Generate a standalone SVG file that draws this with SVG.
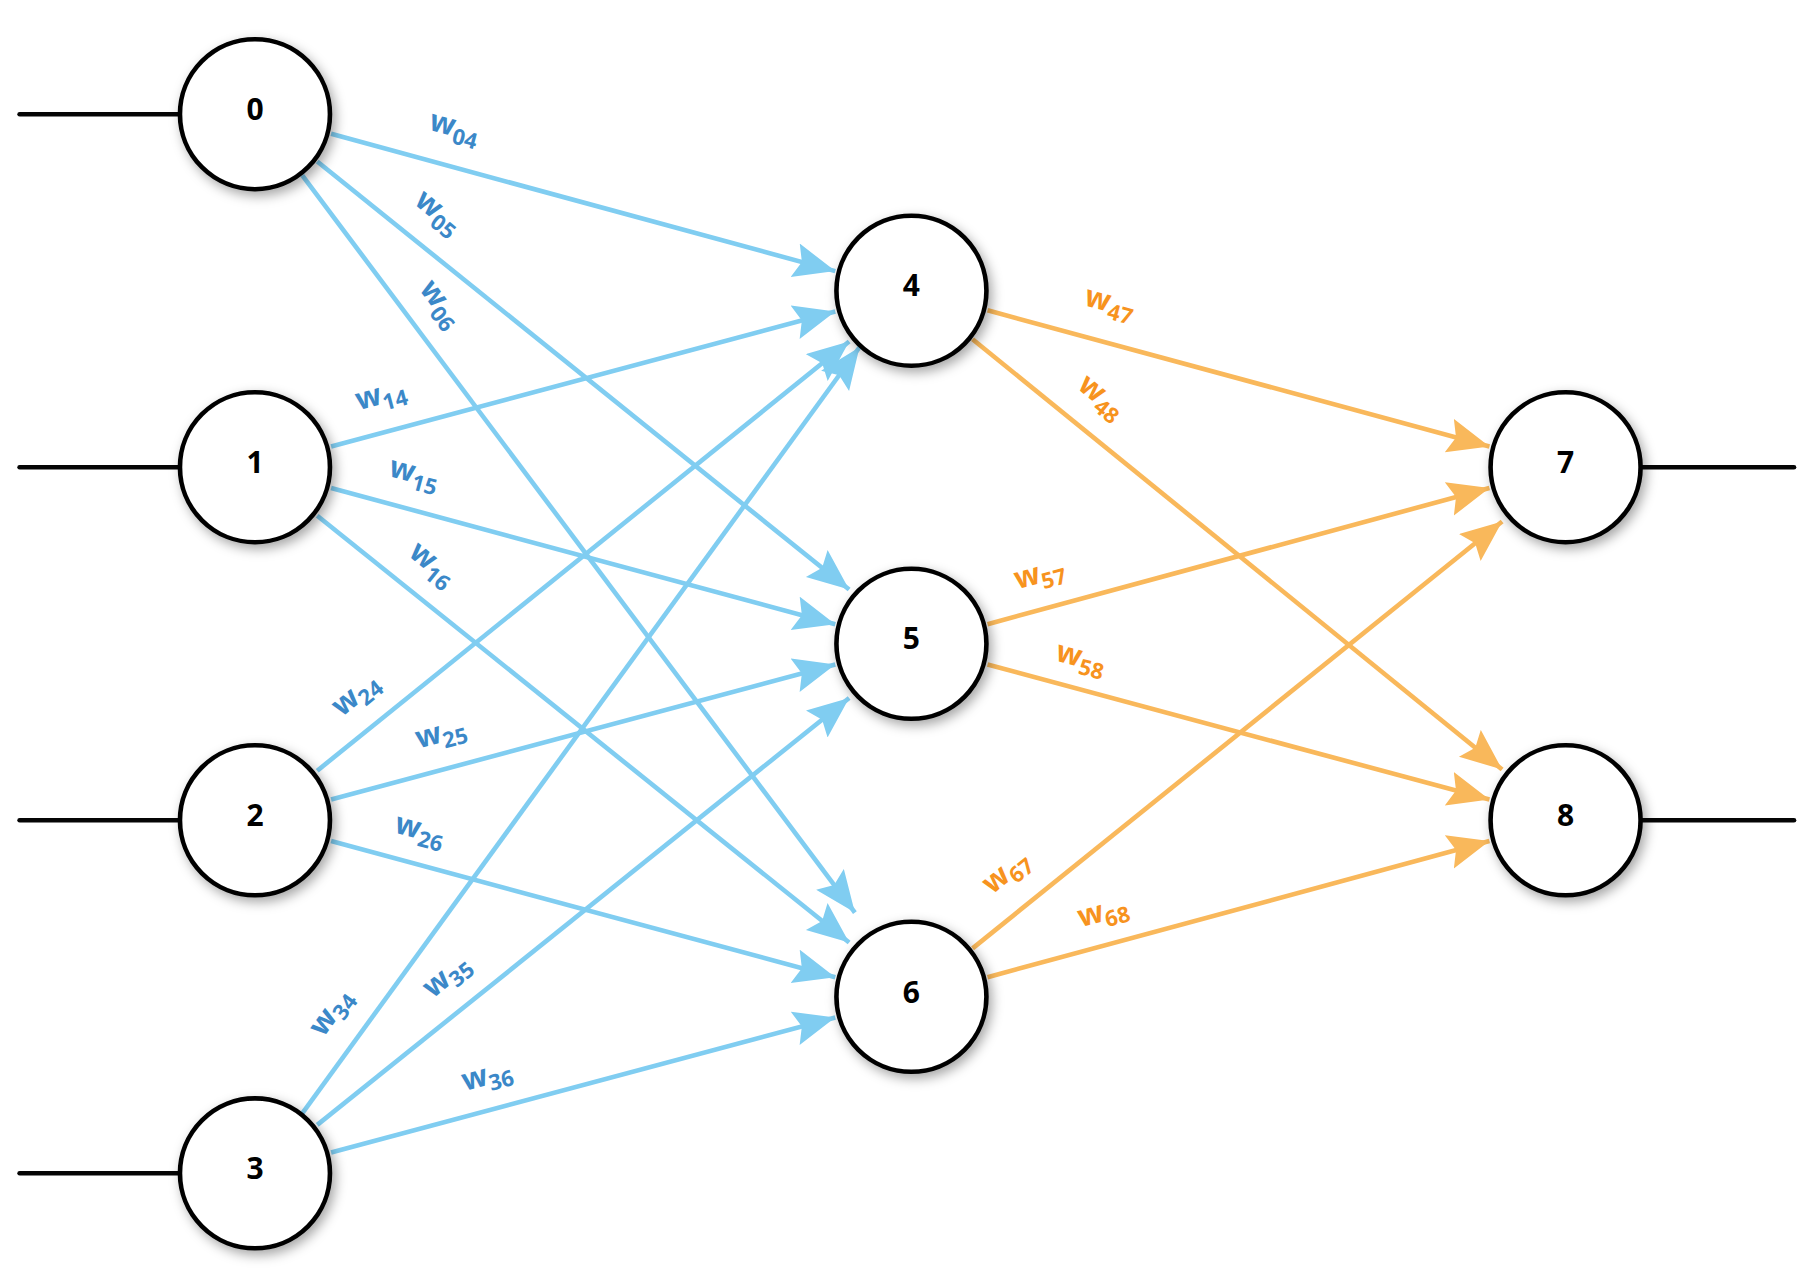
<svg xmlns="http://www.w3.org/2000/svg" width="1809" height="1277" viewBox="0 0 1809 1277">
<style>
.n{fill:#fff;stroke:#050505;stroke-width:4}
.nt{font-family:"Open Sans","DejaVu Sans",sans-serif;font-weight:bold;font-size:26px;fill:#000;text-anchor:middle;dominant-baseline:central}
.io{stroke:#050505;stroke-width:4;stroke-linecap:round}
.b{stroke:#80cdf1;stroke-width:4;fill:none}
.o{stroke:#f9b85b;stroke-width:4;fill:none}
.lb{font-family:"Open Sans","DejaVu Sans",sans-serif;font-weight:bold;font-size:26px;fill:#3b88c8;text-anchor:middle}
.lo{font-family:"Open Sans","DejaVu Sans",sans-serif;font-weight:bold;font-size:26px;fill:#f7931e;text-anchor:middle}
.s{font-size:19px}
</style>
<defs>
<filter id="sh" x="-30%" y="-30%" width="160%" height="160%"><feDropShadow dx="3" dy="4" stdDeviation="5" flood-color="#000" flood-opacity="0.35"/></filter>
<marker id="ab" markerUnits="userSpaceOnUse" markerWidth="40" markerHeight="32" refX="36" refY="15" orient="auto"><path d="M0,0 L36,15 L0,30 L6,15 z" fill="#80cdf1"/></marker>
<marker id="ao" markerUnits="userSpaceOnUse" markerWidth="40" markerHeight="32" refX="36" refY="15" orient="auto"><path d="M0,0 L36,15 L0,30 L6,15 z" fill="#f9b85b"/></marker>
</defs>
<rect width="1809" height="1277" fill="#fff"/>
<g transform="scale(1.1537)">
<g id="connectors">
<line class="io" x1="17" y1="99" x2="155" y2="99"/>
<line class="io" x1="17" y1="405" x2="155" y2="405"/>
<line class="io" x1="17" y1="711" x2="155" y2="711"/>
<line class="io" x1="17" y1="1017" x2="155" y2="1017"/>
<line class="io" x1="1423" y1="405" x2="1555" y2="405"/>
<line class="io" x1="1423" y1="711" x2="1555" y2="711"/>
<g marker-end="url(#ab)">
<line class="b" x1="287" y1="116" x2="724" y2="235"/>
<line class="b" x1="275" y1="140" x2="736" y2="511"/>
<line class="b" x1="262" y1="152" x2="741" y2="791"/>
<line class="b" x1="287" y1="387" x2="724" y2="270"/>
<line class="b" x1="287" y1="423" x2="724" y2="541"/>
<line class="b" x1="275" y1="447" x2="736" y2="817"/>
<line class="b" x1="275" y1="668" x2="736" y2="296"/>
<line class="b" x1="287" y1="693" x2="724" y2="576"/>
<line class="b" x1="287" y1="729" x2="724" y2="847"/>
<line class="b" x1="262" y1="965" x2="745" y2="301"/>
<line class="b" x1="275" y1="975" x2="736" y2="605"/>
<line class="b" x1="287" y1="999" x2="724" y2="882"/>
</g>
<g marker-end="url(#ao)">
<line class="o" x1="856" y1="269" x2="1291" y2="387"/>
<line class="o" x1="843" y1="294" x2="1302" y2="667"/>
<line class="o" x1="856" y1="541" x2="1291" y2="423"/>
<line class="o" x1="856" y1="576" x2="1291" y2="693"/>
<line class="o" x1="843" y1="822" x2="1302" y2="452"/>
<line class="o" x1="856" y1="847" x2="1291" y2="729"/>
</g>
</g>
<g id="labels">
<text class="lb" transform="translate(392,118) rotate(15)">w<tspan class="s" dy="6">04</tspan></text>
<text class="lb" transform="translate(375,190) rotate(39)">w<tspan class="s" dy="6">05</tspan></text>
<text class="lb" transform="translate(376,268) rotate(53)">w<tspan class="s" dy="6">06</tspan></text>
<text class="lb" transform="translate(332,350) rotate(-15)">w<tspan class="s" dy="6">14</tspan></text>
<text class="lb" transform="translate(357,418) rotate(15)">w<tspan class="s" dy="6">15</tspan></text>
<text class="lb" transform="translate(370,495) rotate(39)">w<tspan class="s" dy="6">16</tspan></text>
<text class="lb" transform="translate(313,608) rotate(-39)">w<tspan class="s" dy="6">24</tspan></text>
<text class="lb" transform="translate(384,643) rotate(-15)">w<tspan class="s" dy="6">25</tspan></text>
<text class="lb" transform="translate(362,727) rotate(15)">w<tspan class="s" dy="6">26</tspan></text>
<text class="lb" transform="translate(293,882) rotate(-54)">w<tspan class="s" dy="6">34</tspan></text>
<text class="lb" transform="translate(392,852) rotate(-39)">w<tspan class="s" dy="6">35</tspan></text>
<text class="lb" transform="translate(424,940) rotate(-15)">w<tspan class="s" dy="6">36</tspan></text>
<text class="lo" transform="translate(960,270) rotate(15)">w<tspan class="s" dy="6">47</tspan></text>
<text class="lo" transform="translate(950,350) rotate(39)">w<tspan class="s" dy="6">48</tspan></text>
<text class="lo" transform="translate(903,505) rotate(-15)">w<tspan class="s" dy="6">57</tspan></text>
<text class="lo" transform="translate(935,578) rotate(15)">w<tspan class="s" dy="6">58</tspan></text>
<text class="lo" transform="translate(877,762) rotate(-39)">w<tspan class="s" dy="6">67</tspan></text>
<text class="lo" transform="translate(958,798) rotate(-15)">w<tspan class="s" dy="6">68</tspan></text>
</g>
<g id="n0"><circle class="n" filter="url(#sh)" cx="221" cy="99" r="65"/><text class="nt" x="221" y="94">0</text></g>
<g id="n1"><circle class="n" filter="url(#sh)" cx="221" cy="405" r="65"/><text class="nt" x="221" y="400">1</text></g>
<g id="n2"><circle class="n" filter="url(#sh)" cx="221" cy="711" r="65"/><text class="nt" x="221" y="706">2</text></g>
<g id="n3"><circle class="n" filter="url(#sh)" cx="221" cy="1017" r="65"/><text class="nt" x="221" y="1012">3</text></g>
<g id="n4"><circle class="n" filter="url(#sh)" cx="790" cy="252" r="65"/><text class="nt" x="790" y="247">4</text></g>
<g id="n5"><circle class="n" filter="url(#sh)" cx="790" cy="558" r="65"/><text class="nt" x="790" y="553">5</text></g>
<g id="n6"><circle class="n" filter="url(#sh)" cx="790" cy="864" r="65"/><text class="nt" x="790" y="859">6</text></g>
<g id="n7"><circle class="n" filter="url(#sh)" cx="1357" cy="405" r="65"/><text class="nt" x="1357" y="400">7</text></g>
<g id="n8"><circle class="n" filter="url(#sh)" cx="1357" cy="711" r="65"/><text class="nt" x="1357" y="706">8</text></g>
</g>
</svg>
